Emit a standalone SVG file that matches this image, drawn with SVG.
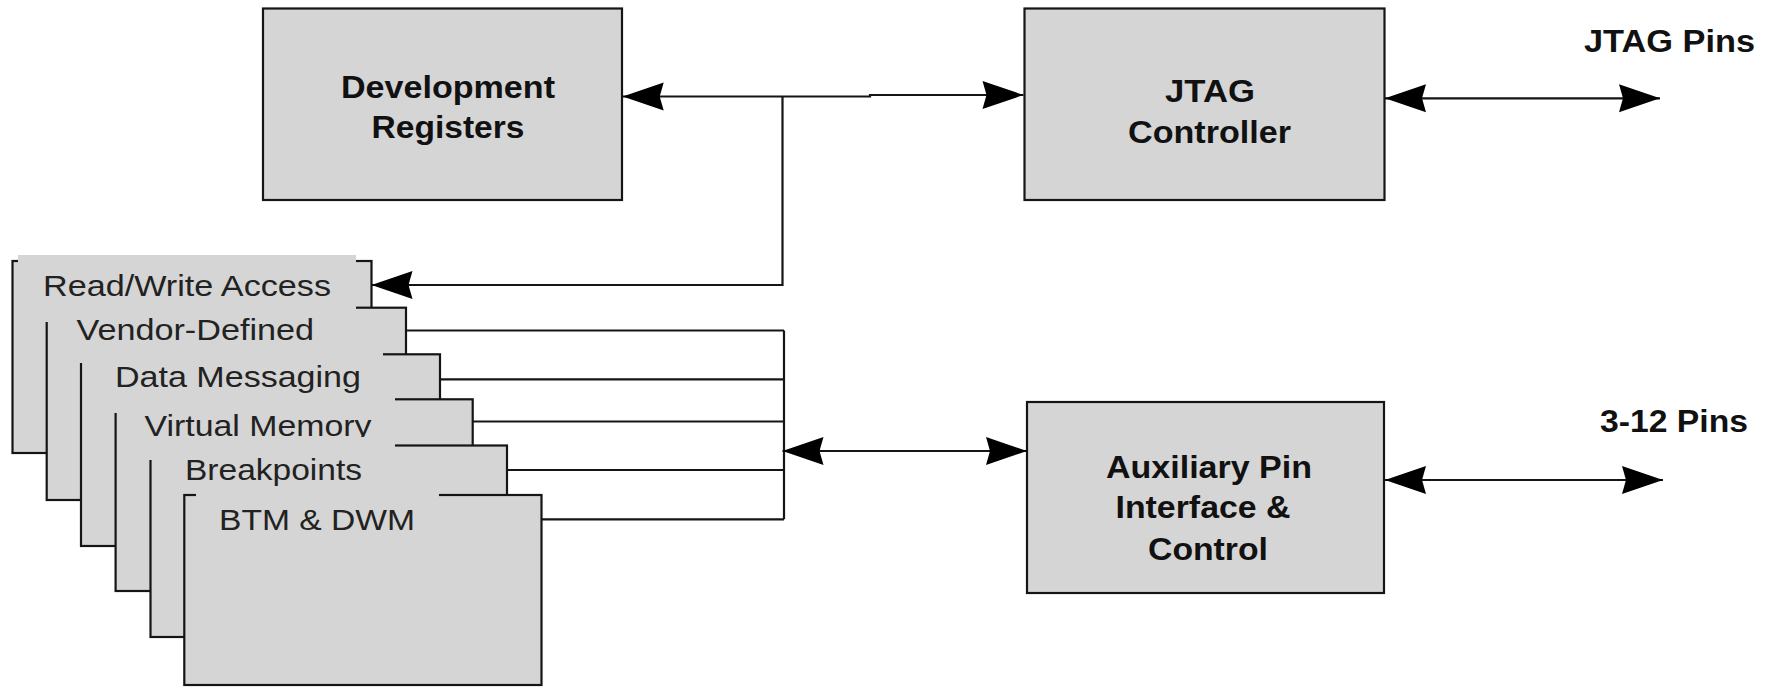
<svg xmlns="http://www.w3.org/2000/svg" width="1779" height="687" viewBox="0 0 1779 687">
  <style>
    .box { fill: #d5d5d5; stroke: #151515; stroke-width: 2.2; }
    .cover { fill: #d5d5d5; stroke: none; }
    .wire { fill: none; stroke: #151515; stroke-width: 2.2; }
    .bold { font-family: "Liberation Sans", Arial, sans-serif; font-weight: bold; font-size: 31px; fill: #111; }
    .reg { font-family: "Liberation Sans", Arial, sans-serif; font-size: 30px; fill: #222; }
  </style>
  <defs>
    <marker id="ah" viewBox="-43 -16 45 32" refX="0" refY="0" markerWidth="45" markerHeight="32" markerUnits="userSpaceOnUse" orient="auto-start-reverse">
      <path d="M0,0 L-41,-14 L-37,0 L-41,14 Z" fill="#000"/>
    </marker>
  </defs>

  <rect width="1779" height="687" fill="#fff"/>

  <!-- main blocks -->
  <g id="dev-registers">
    <rect class="box" x="263" y="8.5" width="359" height="191.5"/>
    <text class="bold" x="448" y="98" text-anchor="middle" textLength="214" lengthAdjust="spacingAndGlyphs">Development</text>
    <text class="bold" x="448" y="138" text-anchor="middle" textLength="153" lengthAdjust="spacingAndGlyphs">Registers</text>
  </g>

  <g id="jtag-controller">
    <rect class="box" x="1024.5" y="8.5" width="360" height="191.5"/>
    <text class="bold" x="1210" y="102" text-anchor="middle" textLength="90" lengthAdjust="spacingAndGlyphs">JTAG</text>
    <text class="bold" x="1209.5" y="143" text-anchor="middle" textLength="163" lengthAdjust="spacingAndGlyphs">Controller</text>
  </g>

  <g id="aux-pin-interface">
    <rect class="box" x="1027" y="402" width="357" height="191"/>
    <text class="bold" x="1209" y="478" text-anchor="middle" textLength="206" lengthAdjust="spacingAndGlyphs">Auxiliary Pin</text>
    <text class="bold" x="1203" y="518" text-anchor="middle" textLength="175" lengthAdjust="spacingAndGlyphs">Interface &amp;</text>
    <text class="bold" x="1208" y="560" text-anchor="middle" textLength="120" lengthAdjust="spacingAndGlyphs">Control</text>
  </g>

  <g id="jtag-pins">
    <text class="bold" x="1584" y="52" textLength="171" lengthAdjust="spacingAndGlyphs">JTAG Pins</text>
  </g>

  <g id="aux-pins">
    <text class="bold" x="1600" y="432" textLength="148" lengthAdjust="spacingAndGlyphs">3-12 Pins</text>
  </g>

  <!-- stacked debug feature pages, back to front -->
  <g id="feature-stack">
    <rect class="box" x="12.5" y="261" width="359" height="192"/>
    <rect class="box" x="46.7" y="307.7" width="359.3" height="192.3"/>
    <rect class="box" x="81" y="354.3" width="359" height="191.7"/>
    <rect class="box" x="115.6" y="399.3" width="357.1" height="191.7"/>
    <rect class="box" x="150.5" y="445.5" width="356.5" height="191.5"/>
    <rect class="box" x="184.3" y="495" width="357.2" height="190"/>

    <g id="read-write-access">
      <rect class="cover" x="18" y="255" width="338" height="67"/>
      <text class="reg" x="43" y="296" textLength="288" lengthAdjust="spacingAndGlyphs">Read/Write Access</text>
    </g>
    <g id="vendor-defined">
      <rect class="cover" x="52" y="310" width="331" height="53"/>
      <text class="reg" x="76.5" y="340" textLength="237.5" lengthAdjust="spacingAndGlyphs">Vendor-Defined</text>
    </g>
    <g id="data-messaging">
      <rect class="cover" x="87" y="357" width="308" height="56"/>
      <text class="reg" x="115" y="387" textLength="246" lengthAdjust="spacingAndGlyphs">Data Messaging</text>
    </g>
    <g id="virtual-memory">
      <rect class="cover" x="121" y="401.5" width="274" height="58.5"/>
      <text class="reg" x="144.5" y="436" textLength="227" lengthAdjust="spacingAndGlyphs">Virtual Memory</text>
    </g>
    <g id="breakpoints">
      <rect class="cover" x="156" y="437" width="234" height="53"/>
      <text class="reg" x="185" y="480" textLength="177" lengthAdjust="spacingAndGlyphs">Breakpoints</text>
    </g>
    <g id="btm-dwm">
      <rect class="cover" x="196" y="489" width="243" height="51"/>
      <text class="reg" x="219" y="530" textLength="196" lengthAdjust="spacingAndGlyphs">BTM &amp; DWM</text>
    </g>
  </g>

  <!-- connectors -->
  <g id="connectors">
    <path class="wire" d="M622.7,96.5 H870 V95 H1023.5" marker-start="url(#ah)" marker-end="url(#ah)"/>
    <path class="wire" d="M782.5,96.5 V285 H371.5" marker-end="url(#ah)"/>
    <path class="wire" d="M1385,98.3 H1660" marker-start="url(#ah)" marker-end="url(#ah)"/>
    <path class="wire" d="M406,330.5 H784 M440,379.3 H784 M472.7,421.5 H784 M507,470 H784 M541.5,519.3 H784 M784,330.5 V519.3"/>
    <path class="wire" d="M782.5,451 H1027" marker-start="url(#ah)" marker-end="url(#ah)"/>
    <path class="wire" d="M1385,480 H1663" marker-start="url(#ah)" marker-end="url(#ah)"/>
  </g>
</svg>
